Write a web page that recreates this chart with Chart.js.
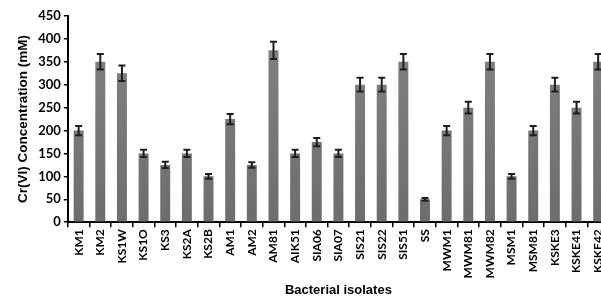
<!DOCTYPE html>
<html>
<head>
<meta charset="utf-8">
<script src="https://cdn.jsdelivr.net/npm/chart.js@4"></script>
<style>
  html, body { margin: 0; padding: 0; background: #fff; overflow: hidden; }
  #wrap { width: 619px; height: 298px; position: relative; }
</style>
</head>
<body>
<div id="wrap"><canvas id="crChart"></canvas></div>
<script>
const isolates = ["KM1", "KM2", "KS1W", "KS1O", "KS3", "KS2A", "KS2B", "AM1", "AM2", "AM81",
  "AIK51", "SIA06", "SIA07", "SIS21", "SIS22", "SIS51", "SS", "MWM1", "MWM81", "MWM82",
  "MSM1", "MSM81", "KSKE3", "KSKE41", "KSKF42"];
const concentration = [200, 350, 325, 150, 125, 150, 100, 225, 125, 375,
  150, 175, 150, 300, 300, 350, 50, 200, 250, 350,
  100, 200, 300, 250, 350];
const errors = [10, 17, 17, 8, 7, 8, 5, 11, 6, 19,
  8, 9, 8, 15, 15, 17, 3, 10, 13, 17,
  5, 10, 15, 13, 17];
const yTicks = [0, 50, 100, 150, 200, 250, 300, 350, 400, 450];

// error bars drawn on top of the bars
const errorBars = {
  id: "errorBars",
  afterDatasetsDraw(chart) {
    const c = chart.ctx;
    const y = chart.scales.y;
    const meta = chart.getDatasetMeta(0);
    c.save();
    c.strokeStyle = "#1e1e1e";
    c.lineWidth = 2;
    meta.data.forEach((bar, i) => {
      const hi = y.getPixelForValue(concentration[i] + errors[i]);
      const lo = y.getPixelForValue(concentration[i] - errors[i]);
      c.beginPath();
      c.moveTo(bar.x, hi); c.lineTo(bar.x, lo);
      c.moveTo(bar.x - 3.5, hi); c.lineTo(bar.x + 3.5, hi);
      c.moveTo(bar.x - 3.5, lo); c.lineTo(bar.x + 3.5, lo);
      c.stroke();
    });
    c.restore();
  }
};

const ctx = document.getElementById("crChart").getContext("2d");
const crChart = new Chart(ctx, {
  type: "bar",
  data: {
    labels: isolates,
    datasets: [
      {
        label: "Cr(VI)",
        data: concentration,
        backgroundColor: function (context) {
          const area = context.chart.chartArea;
          if (!area) return "#7a7a7c";
          const g = context.chart.ctx.createLinearGradient(0, area.top, 0, area.bottom);
          g.addColorStop(0, "#848486");
          g.addColorStop(1, "#6d6d6f");
          return g;
        },
        borderWidth: 0,
        barPercentage: 0.46,
        categoryPercentage: 1,
      },
    ],
  },
  options: {
    animation: false,
    responsive: true,
    maintainAspectRatio: false,
    layout: { padding: { top: 16, right: 10, left: 15, bottom: 0 } },
    scales: {
      x: {
        grid: {
          display: true,
          drawOnChartArea: false,
          color: "#000",
          tickLength: 5,
          lineWidth: 1.5,
        },
        border: { color: "#000", width: 2 },
        ticks: {
          color: "#000",
          minRotation: 90,
          maxRotation: 90,
          autoSkip: false,
          padding: 2,
          font: { family: "Lato", weight: "bold", size: 12 },
        },
        title: {
          display: true,
          text: "Bacterial isolates",
          color: "#000",
          padding: { top: 2, bottom: 0 },
          font: { family: "Liberation Sans", weight: "bold", size: 13 },
        },
      },
      y: {
        min: 0,
        max: 450,
        afterBuildTicks: function (axis) {
          axis.ticks = yTicks.map((v) => ({ value: v }));
        },
        grid: {
          display: true,
          drawOnChartArea: false,
          color: "#000",
          tickLength: 4,
          lineWidth: 1.5,
        },
        border: { color: "#000", width: 2 },
        ticks: {
          color: "#000",
          padding: 3,
          font: { family: "Lato", weight: "bold", size: 13 },
        },
        title: {
          display: true,
          text: "Cr(VI) Concentration (mM)",
          color: "#000",
          padding: { top: 0, bottom: 4 },
          font: { family: "Liberation Sans", weight: "bold", size: 13.5 },
        },
      },
    },
    plugins: {
      legend: { display: false },
      tooltip: { enabled: false },
    },
  },
  plugins: [errorBars],
});
</script>
</body>
</html>
